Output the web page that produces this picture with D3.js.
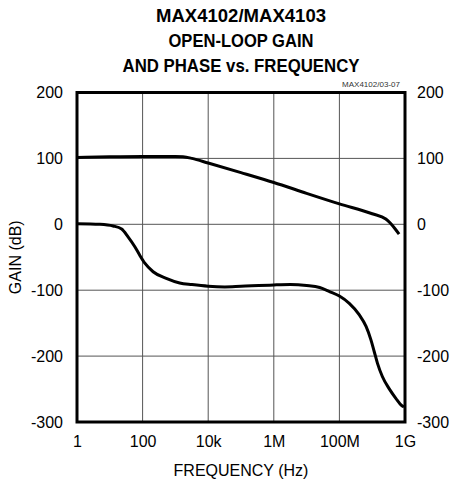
<!DOCTYPE html>
<html>
<head>
<meta charset="utf-8">
<script src="https://cdn.jsdelivr.net/npm/d3@7"></script>
<style>
  body { margin: 0; background: #fff; }
  svg { display: block; }
</style>
</head>
<body>
<svg id="chart"></svg>
<script>
// title lines
const titleLines = ['MAX4102/MAX4103', 'OPEN-LOOP GAIN', 'AND PHASE vs. FREQUENCY'];
const titleWidths = [170, 145, 237];

// x ticks (grid every 2 decades, as printed on the original)
const xTickValues = [1, 1e2, 1e4, 1e6, 1e8, 1e10];
const xTickLabels = ['1', '100', '10k', '1M', '100M', '1G'];
const yTickValues = [200, 100, 0, -100, -200, -300];

// gain curve (dB)
const gainFreq = [1, 10, 100, 1000, 1700, 3200, 1e4, 1e5, 1e6, 1e7, 1e8, 1e9, 2.6e9, 3.6e9, 5.1e9, 6.6e9];
const gainVal  = [101.5, 102.5, 103, 103, 102.5, 100, 93, 78.5, 63.5, 47, 31, 16, 8, 1.5, -7.5, -15];

// phase curve (degrees)
const phaseFreq = [1, 5, 12.6, 23, 36, 58, 81, 117, 209, 525, 1350, 3200, 1e4, 3.2e4, 1e5, 1e6, 3.2e6, 1e7, 2.5e7, 5e7,
                   1e8, 2e8, 4e8, 6.5e8, 9.1e8, 1.15e9, 1.45e9, 2.04e9, 3.24e9, 5.25e9, 7.9e9, 9.3e9];
const phaseVal  = [1, 0, -2.5, -7, -19, -34, -46.5, -59, -72, -82, -89, -91.5, -94, -95, -94, -92, -91.5, -93, -96, -102,
                   -108.8, -120, -137, -155, -175, -193, -211, -231, -249, -264, -275, -277];

const width = 452, height = 483;
const margin = {top: 92.5, right: 47, bottom: 61, left: 77};
const iw = width - margin.left - margin.right;
const ih = height - margin.top - margin.bottom;

const svg = d3.select('#chart')
    .attr('width', width)
    .attr('height', height);

const g = svg.append('g')
    .attr('transform', `translate(${margin.left}, ${margin.top})`);

const x = d3.scaleLog().domain([1, 1e10]).range([0, iw]);
const y = d3.scaleLinear().domain([-300, 200]).range([ih, 0]);

//グリッド
g.append('g')
    .selectAll('line')
    .data(xTickValues.slice(1, -1))
    .join('line')
    .attr('x1', d => x(d)).attr('x2', d => x(d))
    .attr('y1', 0).attr('y2', ih)
    .attr('stroke', '#555').attr('stroke-width', 1);
g.append('g')
    .selectAll('line')
    .data(yTickValues.slice(1, -1))
    .join('line')
    .attr('x1', 0).attr('x2', iw)
    .attr('y1', d => y(d)).attr('y2', d => y(d))
    .attr('stroke', '#555').attr('stroke-width', 1);

const line = d3.line()
    .x(d => x(d[0]))
    .y(d => y(d[1]))
    .curve(d3.curveMonotoneX);

g.append('path')
    .datum(gainFreq.map((f, i) => [f, gainVal[i]]))
    .attr('d', line)
    .attr('fill', 'none')
    .attr('stroke', '#000')
    .attr('stroke-width', 3);

g.append('path')
    .datum(phaseFreq.map((f, i) => [f, phaseVal[i]]))
    .attr('d', line)
    .attr('fill', 'none')
    .attr('stroke', '#000')
    .attr('stroke-width', 3);

// frame
g.append('rect')
    .attr('width', iw).attr('height', ih)
    .attr('fill', 'none')
    .attr('stroke', '#000')
    .attr('stroke-width', 3);

// axes (labels only)
const font = '"Liberation Sans", Arial, sans-serif';
const yFmt = d => String(d);
const yAxisL = d3.axisLeft(y).tickValues(yTickValues).tickSize(0).tickPadding(14).tickFormat(yFmt);
const yAxisR = d3.axisRight(y).tickValues(yTickValues).tickSize(0).tickPadding(12).tickFormat(yFmt);
const xAxis = d3.axisBottom(x).tickValues(xTickValues).tickSize(0).tickPadding(14)
    .tickFormat((d, i) => xTickLabels[i]);

[
  g.append('g').call(yAxisL),
  g.append('g').attr('transform', `translate(${iw},0)`).call(yAxisR),
  g.append('g').attr('transform', `translate(0,${ih})`).call(xAxis)
].forEach(a => {
  a.select('.domain').remove();
  a.selectAll('text')
    .style('font-family', font)
    .style('font-size', '16px')
    .attr('fill', '#000');
});

svg.append('text')
    .attr('x', margin.left + iw / 2)
    .attr('y', 476)
    .attr('text-anchor', 'middle')
    .style('font-family', font)
    .style('font-size', '16px')
    .text('FREQUENCY (Hz)');

svg.append('text')
    .attr('transform', `translate(21, ${margin.top + ih / 2}) rotate(-90)`)
    .attr('text-anchor', 'middle')
    .style('font-family', font)
    .style('font-size', '16px')
    .text('GAIN (dB)');

// title
svg.append('g')
    .selectAll('text')
    .data(titleLines)
    .join('text')
    .attr('x', margin.left + iw / 2)
    .attr('y', (d, i) => 21.5 + i * 25)
    .attr('text-anchor', 'middle')
    .attr('textLength', (d, i) => titleWidths[i])
    .attr('lengthAdjust', 'spacingAndGlyphs')
    .style('font-family', font)
    .style('font-weight', 'bold')
    .style('font-size', '18.5px')
    .text(d => d);

svg.append('text')
    .attr('x', 400)
    .attr('y', 87)
    .attr('text-anchor', 'end')
    .attr('textLength', 58)
    .attr('lengthAdjust', 'spacingAndGlyphs')
    .style('font-family', font)
    .style('font-size', '7.5px')
    .attr('fill', '#333')
    .text('MAX4102/03-07');
</script>
</body>
</html>
